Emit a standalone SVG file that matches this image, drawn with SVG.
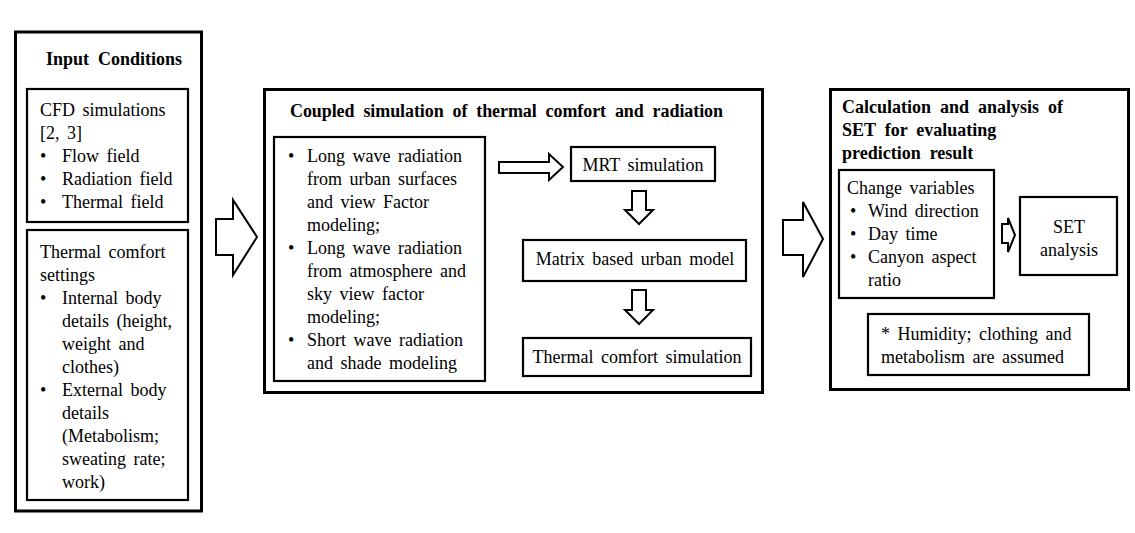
<svg xmlns="http://www.w3.org/2000/svg" width="1135" height="533" viewBox="0 0 1135 533">
<style>
text{font-family:"Liberation Serif","Times New Roman",serif;font-size:18px;fill:#000;word-spacing:3px}
.b{font-weight:bold;word-spacing:4.5px}
.outer{fill:#fff;stroke:#000;stroke-width:3}
.inner{fill:#fff;stroke:#000;stroke-width:2.2}
.arr{fill:#fff;stroke:#000;stroke-width:2;stroke-linejoin:miter}
.c{text-anchor:middle}
</style>
<rect width="1135" height="533" fill="#fff"/>
<g id="input-conditions">
<rect class="outer" x="15.5" y="32" width="186" height="479"/>
<text class="b" x="46" y="65">Input Conditions</text>
</g>
<g id="cfd">
<rect class="inner" x="27" y="89" width="161" height="133"/>
<text x="40" y="116">CFD simulations</text>
<text x="40" y="139">[2, 3]</text>
<text x="40" y="162">•</text><text x="62" y="162">Flow field</text>
<text x="40" y="185">•</text><text x="62" y="185">Radiation field</text>
<text x="40" y="208">•</text><text x="62" y="208">Thermal field</text>
</g>
<g id="thermal-settings">
<rect class="inner" x="27" y="230" width="161" height="270"/>
<text x="40" y="258">Thermal comfort</text>
<text x="40" y="281">settings</text>
<text x="40" y="304">•</text><text x="62" y="304">Internal body</text>
<text x="62" y="327">details (height,</text>
<text x="62" y="350">weight and</text>
<text x="62" y="373">clothes)</text>
<text x="40" y="396">•</text><text x="62" y="396">External body</text>
<text x="62" y="419">details</text>
<text x="62" y="442">(Metabolism;</text>
<text x="62" y="465">sweating rate;</text>
<text x="62" y="488">work)</text>
</g>
<g id="coupled">
<rect class="outer" x="264.5" y="89.5" width="498" height="303"/>
<text class="b" x="290" y="117" textLength="433" lengthAdjust="spacing">Coupled simulation of thermal comfort and radiation</text>
</g>
<g id="radiation-list">
<rect class="inner" x="274" y="137" width="211" height="244"/>
<text x="288" y="162">•</text><text x="307" y="162">Long wave radiation</text>
<text x="307" y="185">from urban surfaces</text>
<text x="307" y="208">and view Factor</text>
<text x="307" y="231">modeling;</text>
<text x="288" y="254">•</text><text x="307" y="254">Long wave radiation</text>
<text x="307" y="277">from atmosphere and</text>
<text x="307" y="300">sky view factor</text>
<text x="307" y="323">modeling;</text>
<text x="288" y="346">•</text><text x="307" y="346">Short wave radiation</text>
<text x="307" y="369">and shade modeling</text>
</g>
<g id="mrt">
<rect class="inner" x="571" y="147" width="144" height="34"/>
<text class="c" x="643" y="171">MRT simulation</text>
</g>
<g id="matrix">
<rect class="inner" x="523" y="240" width="223" height="41"/>
<text class="c" x="635" y="265">Matrix based urban model</text>
</g>
<g id="thermal-sim">
<rect class="inner" x="523" y="338" width="228" height="38"/>
<text class="c" x="637" y="363">Thermal comfort simulation</text>
</g>
<g id="set-calc">
<rect class="outer" x="830.5" y="89.5" width="298" height="300"/>
<text class="b" x="842" y="113">Calculation and analysis of</text>
<text class="b" x="842" y="136">SET for evaluating</text>
<text class="b" x="842" y="159">prediction result</text>
</g>
<g id="change-vars">
<rect class="inner" x="839" y="170" width="155" height="128"/>
<text x="847" y="194">Change variables</text>
<text x="850" y="217">•</text><text x="868" y="217">Wind direction</text>
<text x="850" y="240">•</text><text x="868" y="240">Day time</text>
<text x="850" y="263">•</text><text x="868" y="263">Canyon aspect</text>
<text x="868" y="286">ratio</text>
</g>
<g id="set-analysis">
<rect class="inner" x="1020" y="197" width="97" height="78"/>
<text class="c" x="1069" y="233">SET</text>
<text class="c" x="1069" y="256">analysis</text>
</g>
<g id="note">
<rect class="inner" x="868" y="314" width="221" height="61"/>
<text x="881" y="340">* Humidity; clothing and</text>
<text x="881" y="363">metabolism are assumed</text>
</g>
<g id="connectors">
<polygon class="arr" points="216,219 233,219 233,200 257,237 233,275 233,255 216,255"/>
<polygon class="arr" points="783,220 803,220 803,202 823,239 803,277 803,255 783,255"/>
<polygon class="arr" points="499,162 549,162 549,154 563,167 549,180 549,173 499,173"/>
<polygon class="arr" points="632,191 646,191 646,210 653,210 639,224 625,210 632,210"/>
<polygon class="arr" points="632,290 646,290 646,310 653,310 639,324 625,310 632,310"/>
<polygon class="arr" points="1002,224 1008,224 1008,218 1015,235 1008,252 1008,243 1002,243"/>
</g>
</svg>
